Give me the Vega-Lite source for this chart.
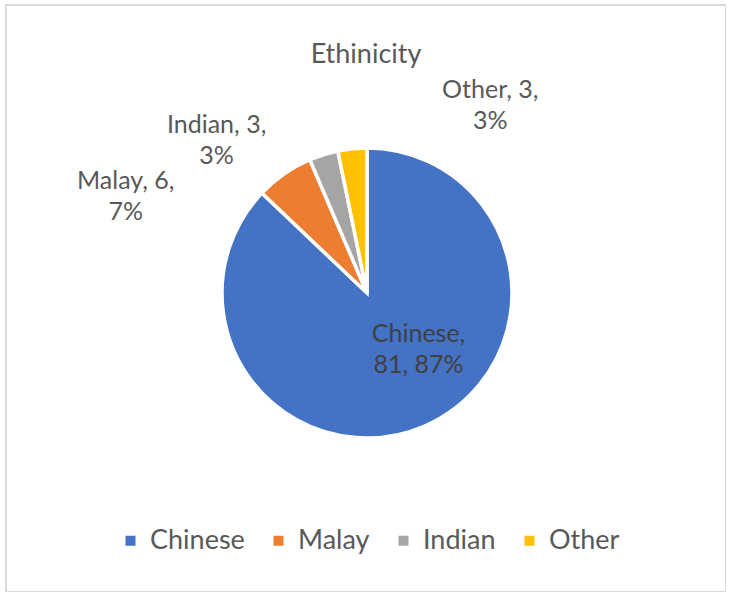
{
  "$schema": "https://vega.github.io/schema/vega-lite/v6.json",
  "width": 720,
  "height": 587,
  "autosize": {"type": "none"},
  "padding": {"left": 6, "top": 5, "right": 0, "bottom": 0},
  "background": "white",
  "view": {"stroke": "#d9d9d9", "strokeWidth": 2},
  "config": {
    "view": {"stroke": "#d9d9d9", "strokeWidth": 2},
    "font": "Lato"
  },
  "title": {
    "text": "Ethinicity",
    "fontSize": 27,
    "fontWeight": "normal",
    "color": "#595959",
    "font": "Lato",
    "anchor": "middle",
    "baseline": "alphabetic",
    "offset": -85
  },
  "data": {
    "values": [
      {"Category": "Chinese", "Count": 81, "Pct": "87%"},
      {"Category": "Malay", "Count": 6, "Pct": "7%"},
      {"Category": "Indian", "Count": 3, "Pct": "3%"},
      {"Category": "Other", "Count": 3, "Pct": "3%"}
    ]
  },
  "transform": [
    {"stack": "Count", "groupby": [], "sort": [{"field": "Count", "order": "descending"}], "as": ["c0", "c1"]},
    {"calculate": "(datum.c0 + datum.c1) / 2", "as": "mid"},
    {"calculate": "datum.Category == 'Chinese' ? datum.Category + ',\\n' + datum.Count + ', ' + datum.Pct : datum.Category + ', ' + datum.Count + ',\\n' + datum.Pct", "as": "label"}
  ],
  "encoding": {
    "color": {
      "field": "Category",
      "type": "nominal",
      "sort": ["Chinese", "Malay", "Indian", "Other"],
      "scale": {"domain": ["Chinese", "Malay", "Indian", "Other"], "range": ["#4472C4", "#ED7D31", "#A5A5A5", "#FFC000"]},
      "legend": {
        "orient": "none",
        "direction": "horizontal",
        "legendX": 111,
        "legendY": 522,
        "title": null,
        "symbolType": "square",
        "symbolSize": 100,
        "symbolStrokeWidth": 0,
        "labelFontSize": 27,
        "labelColor": "#595959",
        "labelFont": "Lato",
        "labelOffset": 6,
        "columnPadding": 20,
        "labelLimit": 200
      }
    }
  },
  "layer": [
    {
      "mark": {"type": "arc", "outerRadius": 145, "stroke": "white", "strokeWidth": 3.5, "yOffset": -5.5, "xOffset": 1},
      "encoding": {
        "theta": {"field": "c0", "type": "quantitative", "stack": null, "scale": {"domain": [0, 93]}},
        "theta2": {"field": "c1"}
      }
    },
    {
      "transform": [{"filter": "datum.Category == 'Chinese'"}],
      "mark": {"type": "text", "radius": 80, "dx": 21, "dy": -38, "fontSize": 25, "lineHeight": 31, "lineBreak": "\n", "align": "center", "baseline": "middle", "font": "Lato"},
      "encoding": {"theta": {"field": "mid", "type": "quantitative", "stack": null}, "text": {"field": "label"}, "color": {"value": "#404040"}}
    },
    {
      "transform": [{"filter": "datum.Category == 'Malay'"}],
      "mark": {"type": "text", "radius": 165, "dx": -146, "dy": 18, "fontSize": 25, "lineHeight": 31, "lineBreak": "\n", "align": "center", "baseline": "middle", "font": "Lato"},
      "encoding": {"theta": {"field": "mid", "type": "quantitative", "stack": null}, "text": {"field": "label"}, "color": {"value": "#595959"}}
    },
    {
      "transform": [{"filter": "datum.Category == 'Indian'"}],
      "mark": {"type": "text", "radius": 165, "dx": -100, "dy": -16, "fontSize": 25, "lineHeight": 31, "lineBreak": "\n", "align": "center", "baseline": "middle", "font": "Lato"},
      "encoding": {"theta": {"field": "mid", "type": "quantitative", "stack": null}, "text": {"field": "label"}, "color": {"value": "#595959"}}
    },
    {
      "transform": [{"filter": "datum.Category == 'Other'"}],
      "mark": {"type": "text", "radius": 165, "dx": 141, "dy": -44, "fontSize": 25, "lineHeight": 31, "lineBreak": "\n", "align": "center", "baseline": "middle", "font": "Lato"},
      "encoding": {"theta": {"field": "mid", "type": "quantitative", "stack": null}, "text": {"field": "label"}, "color": {"value": "#595959"}}
    }
  ]
}
